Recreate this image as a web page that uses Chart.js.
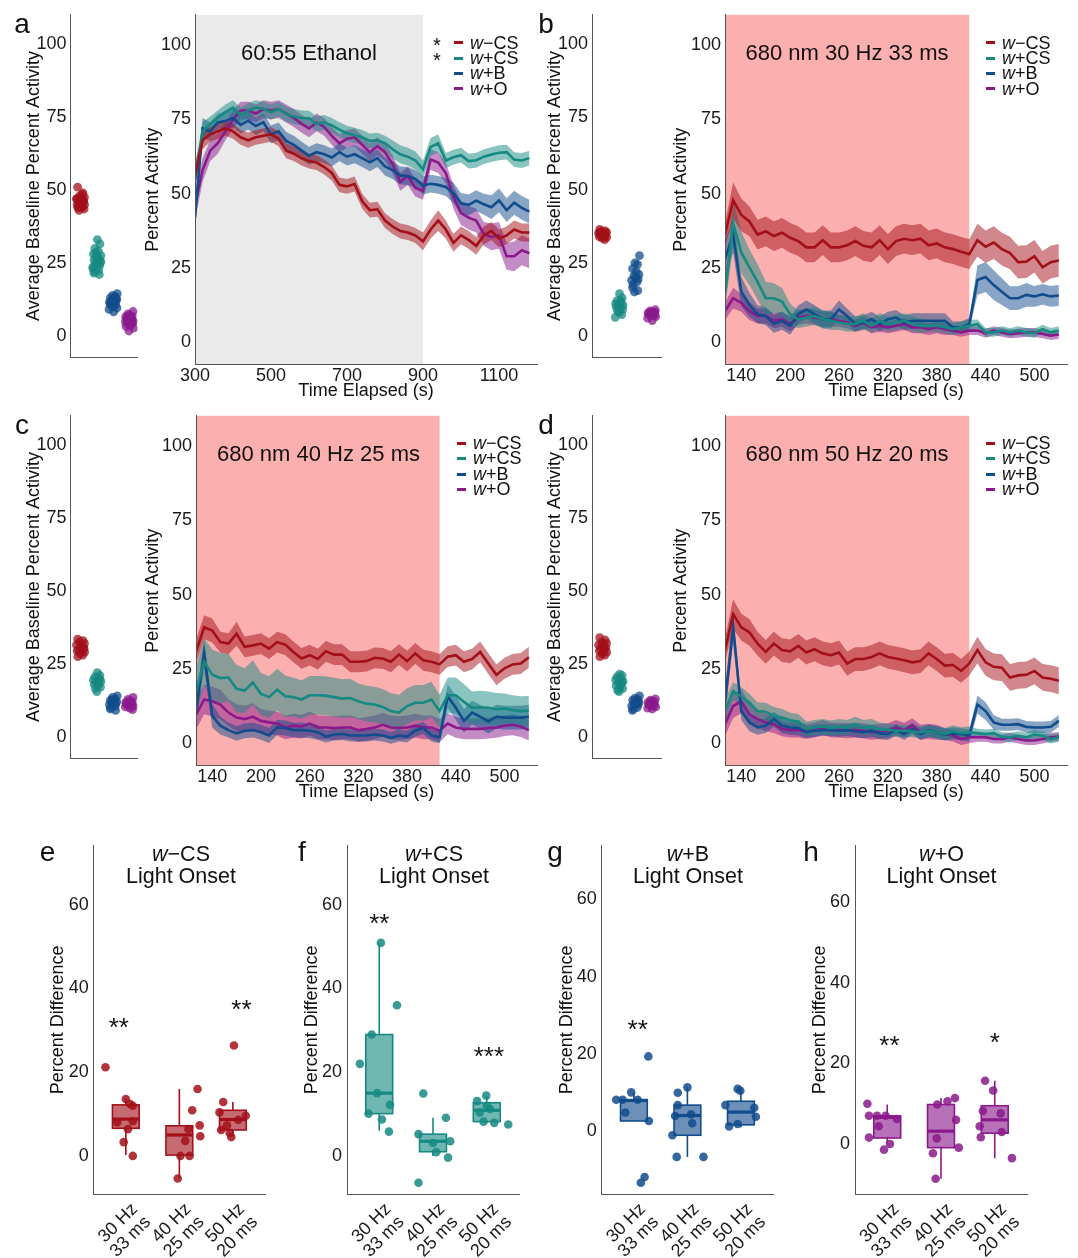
<!DOCTYPE html>
<html lang="en">
<head>
<meta charset="UTF-8">
<title>Activity under ethanol and red light</title>
<style>
  body { margin: 0; width: 1078px; height: 1258px; position: relative; overflow: hidden; background: #fff;
         font-family: 'Liberation Sans', Arial, Helvetica, sans-serif; color: #111; }
  canvas { position: absolute; }
  .txt { position: absolute; white-space: nowrap; transform: translate(-50%, -50%); line-height: 1; }
  .legend { position: absolute; font-size: 18px; line-height: 15.4px; white-space: nowrap; }
  .key { display: inline-block; width: 9px; height: 3px; margin-right: 7px; vertical-align: middle; position: relative; top: -1px; }
</style>
</head>
<body>
<canvas id="aStrip" width="142" height="372" style="left:0;top:0"></canvas>
<canvas id="aTime" width="398" height="402" style="left:142px;top:0"></canvas>
<canvas id="bStrip" width="126" height="372" style="left:540px;top:0"></canvas>
<canvas id="bTime" width="412" height="402" style="left:666px;top:0"></canvas>
<canvas id="cStrip" width="142" height="372" style="left:0;top:401px"></canvas>
<canvas id="cTime" width="398" height="402" style="left:142px;top:401px"></canvas>
<canvas id="dStrip" width="126" height="372" style="left:540px;top:401px"></canvas>
<canvas id="dTime" width="412" height="402" style="left:666px;top:401px"></canvas>
<canvas id="eBox" width="250" height="428" style="left:20px;top:830px"></canvas>
<canvas id="fBox" width="250" height="428" style="left:280px;top:830px"></canvas>
<canvas id="gBox" width="250" height="428" style="left:540px;top:830px"></canvas>
<canvas id="hBox" width="250" height="428" style="left:790px;top:830px"></canvas>

<script src="https://cdn.jsdelivr.net/npm/chart.js"></script>
<script>
// ---- groups / colours ----
const GROUPS = ['w−CS', 'w+CS', 'w+B', 'w+O'];
const COLORS = ['#A3101A', '#168A82', '#114C8C', '#8A1A8C'];

// ---- axes ----
const Y_TICKS_ACTIVITY = [0, 25, 50, 75, 100];
const Y_TICKS_DIFF = [0, 20, 40, 60];
const X_TICKS_ETHANOL = [300, 500, 700, 900, 1100];
const X_TICKS_LIGHT = [140, 200, 260, 320, 380, 440, 500];
const BOX_LABELS = [['30 Hz', '33 ms'], ['40 Hz', '25 ms'], ['50 Hz', '20 ms']];

// ---- time points ----
const T_ETHANOL = [300,320,340,360,380,400,420,440,460,480,500,520,540,560,580,600,620,640,660,680,700,720,740,760,780,800,820,840,860,880,900,920,940,960,980,1000,1020,1040,1060,1080,1100,1120,1140,1160,1180];
const T_LIGHT = [120,130,140,150,160,170,180,190,200,210,220,230,240,250,260,270,280,290,300,310,320,330,340,350,360,370,380,390,400,410,420,430,440,450,460,470,480,490,500,510,520,530];

// ---- panel a: ethanol ----
const A_RED = [56,68,70,71,72,71,69,68,69,69.5, 70,68.5,64.5,63.5,62,61,60.5,59,57,53, 52.5,53.3,47.5,44.5,44.8,41,39,37.5,37,36, 34,38,41,38,33.5,36,34.5,32.5,36,37.5, 35,36,38,37,37];
const A_TEAL = [55,71,73.5,75.5,77.5,79,76.5,78,79,78.5, 77.5,78.5,76.8,76,75.5,75.4,73.5,74,73,71.6, 70.4,69.7,69,67.8,68,67,65,63.3,62.5,61.2, 58.2,65.8,67,61.2,62.3,63,61,61.3,62.5,63.2, 63.8,64,61.5,61.2,62];
const A_BLUE = [42,72,71,74,74.5,75.5,73.2,74.6,72.8,74, 70,71,67.8,66.5,64.6,62.8,64,63.3,62.2,64, 62.5,63.3,62,60.6,62,59.2,58,56.2,56,55, 52.8,53.4,53,52.3,50.3,46.8,46.3,47.7,46.5,45.5, 47.8,44.5,47,45.3,44];
const A_PURPLE = [46,58,64.5,67,71,75,78,78,77,78.5, 78,78.5,77,75.5,73.6,72,74,72.5,69.5,67, 68.5,69,66.5,64,66,64,60,54,56,52, 51,61.5,60.5,57,49,43.5,42,41,36.5,35.5, 36,29,29,31,30];
const A_RED_SE = [4,3,2.5,2.5,2.5,2.5,2.5,2.5,2.5,2.5, 2.5,2.5,2.5,2.5,2.5,2.5,2.5,2.5,2.5,2.5, 2.5,2.5,2.5,2.5,2.5,2.5,2.5,2.5,2.5,2.5, 3,3,3.5,3,3,3,3,3,3,3, 3,3,3,3,3];
const A_TEAL_SE = [4,3,2.5,2.5,2.5,2.5,2.5,2.5,2.5,2.5, 2.5,2.5,2.5,2.5,2.5,2.5,2.5,2.5,2.5,2.5, 2.5,2.5,2.5,2.5,2.5,2.5,3,3,3,3, 3,3,3,2.5,2.5,2.5,2.5,2.5,2.5,2.5, 2.5,2.5,2.5,2.5,2.5];
const A_BLUE_SE = [5,3.5,3,3,3,3,3,3,3,3, 3,3,3,3,3,3,3,3,3,3, 3,3,3,3,3,3,3,3,3,3, 3,3,3,3,3.5,3.5,3.5,3.5,3.5,4, 4,4,4,4,4];
const A_PURPLE_SE = [5,4,3.5,3.5,3,3,3,3,3,3, 3,3,3,3,3,3,3,3,3,3, 3,3,3,3,3,3,3,3,3,3, 3,3.5,3.5,3.5,4,4,4,4,4,4.5, 4.5,4.5,5,5,5];

// ---- panel b: 30 Hz 33 ms ----
const B_RED = [36.3,47.8,42.9,40.7,36.3,37.4,35.8,36.9,35.2,34.1, 32,32,34.4,32,32,32.7,34.1,32.5,32,34.4, 31.4,34.1,34.9,34.4,34.9,32.7,33.3,32,31.4,30.5, 29.7,34.4,32.2,33.6,31.4,30.1,27,27.2,29,25.3, 27,27.6];
const B_TEAL = [16,40.1,30.3,25.3,20.4,14.9,14.9,13.8,9.5,7.8, 8.4,8.9,7.8,7.3,6.7,6.2,6.2,7.3,5.6,7.3, 6.2,6.7,7.3,6.2,5.6,5.6,5.6,5.1,4.5,5.1, 5.6,6.2,3.4,3.4,4,3.4,4,3.4,3.1,4.5, 3.4,4];
const B_BLUE = [28.1,36.3,17.1,12.7,9.5,8.9,6.2,7.3,5.6,9.5, 11.1,9.5,7.8,7.8,11.1,8.9,6.2,6.7,7.8,6.2, 7.8,8.4,6.7,7.3,7.3,7.3,7.3,7.3,5.1,5.1, 6.2,21,22,19.3,17.1,14.9,14.9,16,15.5,16.2, 15.5,15.8];
const B_PURPLE = [10.6,14.9,13.3,10.6,8.9,8.9,7.3,7.8,6.2,8.4, 8.9,8.4,7.8,7.8,7.3,6.7,5.6,6.7,5.1,5.6, 5.1,5.6,6.2,5.1,5.1,4.5,5.1,4.5,4,3.4, 4,4,3.1,4,3.4,2.9,3.1,3.4,3.4,2.9, 2.3,2.7];
const B_RED_SE = [4,6,5.5,5,5,5,5,5,5,5, 5,5,5,5,5,5,5,5,5,5, 5,5,5,5,5,5,5,5,5,5, 5,5.5,5.5,5.5,5.5,5.5,5.5,5.5,5.5,5.5, 5.5,5.5];
const B_TEAL_SE = [4,8,7,6,6,5.5,5,4.5,3.5,3, 3,3,3,3,2.5,2.5,2.5,2.5,2.5,2.5, 2.5,2.5,2.5,2.5,2.5,2,2,2,2,2, 2,1.5,1.5,1.5,1.5,1.5,1.5,1.5,1.5,1.5, 1.5,1.5];
const B_BLUE_SE = [6,6,5,4,3,3,3,3,3,3, 3,3,3,3,3,2.5,2.5,2.5,2.5,2.5, 2.5,2.5,2.5,2.5,2.5,2.5,2.5,2.5,2,2, 2,5,5,5,4.5,4,4,4,3.5,3.5, 3.5,3.5];
const B_PURPLE_SE = [3,3.5,3,3,2.5,2.5,2.5,2.5,2.5,2.5, 2.5,2.5,2.5,2.5,2,2,2,2,2,2, 2,2,2,2,2,2,2,2,1.5,1.5, 1.5,1.5,1.5,1.5,1.5,1.5,1.5,1.5,1.5,1.5, 1.5,1.5];

// ---- panel c: 40 Hz 25 ms ----
const C_RED = [30.8,39.1,38,34.1,33.6,36.9,32.5,33,33.6,31.9, 34.1,33.2,30.8,28.6,29.7,28.4,31,29.9,29.9,27.5, 27.5,27.7,28.8,28.6,27.5,29.9,27.7,30.3,28,27.5, 26.6,29.2,29.7,27.5,28.4,30.8,26.9,23.1,25.3,26.6, 26.9,29];
const C_TEAL = [17.6,27.5,23.1,22,22.2,18.4,17.8,20.5,16.7,15.6, 18.1,15.9,15.6,14.8,16.2,16.2,16.1,15.6,15.1,15.3, 14.2,13.4,13.1,12.3,10.9,10.4,12.6,13.7,13.7,14.8, 10.9,16.2,16.2,14,12,12.2,12,11.5,11.8,11.2, 10.9,11];
const C_BLUE = [11,30.3,9.3,6,4.5,3.4,4.3,4.5,3.8,2.7, 5.4,5.2,4.5,4.5,4.3,3.8,2.3,3,3.2,2.7, 2.7,2.7,3,2.7,1.9,2.7,2.3,4.3,5.2,2.7, 2.1,15.9,12,7.6,10.4,9,7.4,9,8.7,8.7, 8.7,9];
const C_PURPLE = [9.6,14.8,14.2,13.1,10.4,8.7,8.2,9,7.6,7.1, 6.7,5.4,6,5.7,6.7,5.4,5.4,5.2,5.4,5.4, 4.5,4.9,5.4,6.3,5.4,5.2,5.4,6,5.4,5.4, 4.3,6.7,5.4,4.9,4.9,4.9,5.2,5.4,6,6.3, 5.7,4.5];
const C_RED_SE = [4,4,4,3.5,3.5,4,3.5,3.5,3.5,3.5, 3.5,3.5,3.5,3.5,3.5,3.5,3.5,3.5,3.5,3.5, 3.5,3.5,3.5,3.5,3.5,3.5,3.5,3.5,3.5,3.5, 3.5,3.5,3.5,3.5,3.5,3.5,3.5,3.5,3.5,3.5, 3.5,3.5];
const C_TEAL_SE = [8,8,8.5,8.5,8,8,7.5,7.5,7,7, 7,7,6.5,6.5,6.5,6.5,6.5,6.5,6.5,6.5, 6,6,6,6,6,6,6,6,6,6, 5.5,6,6,6,5.5,5.5,5.5,5.5,5,5, 5,5];
const C_BLUE_SE = [4,5,4,3,2.5,2.5,2.5,2.5,2.5,2.5, 2.5,2.5,2.5,2.5,2.5,2.5,2,2,2,2, 2,2,2,2,2,2,2,2,2,2, 2,4,4,4,4,4,4,4,4,4, 4,4];
const C_PURPLE_SE = [5,5,5,5,4.5,4.5,4.5,4.5,4,4, 4,4,4,4,4,4,4,4,4,4, 4,4,4,4,4,4,4,4,4,4, 4,3.5,3.5,3.5,3.5,3.5,3.5,3.5,3.5,3.5, 3.5,3.5];

// ---- panel d: 50 Hz 20 ms ----
const D_RED = [31.4,43.5,39.1,37.4,33.6,30.8,33.6,31.4,31,32.8, 30.6,31.7,30.3,29.7,30.6,26.9,28.4,28.4,29.1,30.3, 29.1,28.6,28,27.3,27.7,30.3,28.4,26.2,26.4,24.4, 26.9,31.4,27.3,25.8,25.5,22.2,22.9,23.1,24.4,22.2, 21.8,21.1];
const D_TEAL = [10.9,17.6,15.9,13.7,10.9,10.7,9.3,8.7,7.8,7.4, 4.9,5.4,5.7,5.2,5.7,5.4,6.5,5.4,5.7,4.6, 4.6,4.3,4.3,4.1,3.8,4.1,3.8,3.2,4.1,3.5, 3.8,3.5,3.2,3.5,2.3,2.1,2.6,2.1,3,2.6, 1.5,2.1];
const D_BLUE = [13.7,39.1,10.9,7.1,5.4,6,8.2,6,5.4,5.2, 3.8,4.3,4.5,4.5,4.3,4.5,4.1,3.8,4.3,3.4, 3.2,4.5,3.2,4.9,3.2,4.3,3.8,3,3.4,3.2, 2.7,13.1,10.9,7.1,6.3,6.3,6.5,5.6,5.4,5.4, 5.6,7.6];
const D_PURPLE = [6.5,12.6,14.2,9.8,8.2,7.1,6.5,4.9,4.5,4.5, 4.1,4.5,5.4,4.5,4.5,4.3,4.5,4.3,3.8,4.1, 4.3,5.4,4.5,6,3.8,4.1,3.8,3.2,2.7,1.5, 2.1,2.1,2.1,1.5,1.5,2.1,1.5,1,1,1.5, 2.1,2.3];
const D_RED_SE = [4,5,4.5,4.5,4,4,4,4,4,4, 4,4,4,4,4,4,4,4,4,4, 4,4,4,4,4,4,4,4,4,4, 4,4.5,4.5,4.5,4.5,4.5,4.5,4.5,4.5,4.5, 4.5,4.5];
const D_TEAL_SE = [4,3,3,3,3,3,3,3,2.5,2.5, 2.5,2.5,2.5,2.5,2.5,2.5,2.5,2.5,2.5,2.5, 2,2,2,2,2,2,2,2,2,2, 2,1.5,1.5,1.5,1.5,1.5,1.5,1.5,1.5,1.5, 1.5,1.5];
const D_BLUE_SE = [5,5,3,3,2.5,2.5,2.5,2.5,2.5,2.5, 2,2,2,2,2,2,2,2,2,2, 2,2,2,2,2,2,2,2,2,2, 2,3,3,2.5,2,2,2,2,2,2, 2,2];
const D_PURPLE_SE = [4,4,4,3.5,3,3,3,2.5,2.5,2.5, 2.5,2.5,2.5,2.5,2.5,2.5,2.5,2.5,2.5,2.5, 2.5,2.5,2.5,2.5,2.5,2.5,2.5,2,2,2, 2,1.5,1.5,1.5,1.5,1.5,1.5,1.5,1.5,1.5, 1.5,1.5];

// ---- baseline activity (strip plots) ----
const A_BASE_RED = [51,49,48,47.5,47,46.5,46,46,45.5,45,45,44.5,44.5,44,44,43.5,43,45,46.5,47,48.5,44.2];
const A_BASE_TEAL = [33,31.5,30,29,28,27.5,27,26.5,26,26,25.5,25,24.5,24,23,22.5,22,21.5,21,28.5,25.2,23.5];
const A_BASE_BLUE = [14.4,13.8,13.5,13,12.8,12.5,12.2,12,11.8,11.5,11.2,11,10.8,10.5,10,9.5,9,8.2,12.6,11.4];
const A_BASE_PURPLE = [8.3,7.5,7,6.8,6.5,6.2,6,5.8,5.5,5.2,5,4.8,4.5,4.2,4,3.6,3.2,2.6,1.6,5.4];
const B_BASE_RED = [36.5,36,35.8,35.5,35.2,35,34.8,34.5,34.2,34,33.8,33.5,33,35.5,34.6];
const B_BASE_TEAL = [14.4,13,12,11.5,11,10.5,10.2,10,9.8,9.5,9,8.5,8,7.2,6.3,11.8];
const B_BASE_BLUE = [27.5,25,24.5,23,22,21,20.5,20,19.5,19,18.5,17.5,16.5,15.5,15];
const B_BASE_PURPLE = [8.9,8.5,8.2,8,7.8,7.6,7.5,7.3,7,6.8,6.5,6,5.2,7.9];
const C_BASE_RED = [33.5,33,32.5,32,31.5,31,30.5,30,29.8,29.5,29,28.5,28,27.5,31.2,30.2];
const C_BASE_TEAL = [22,21,20.5,20,19.5,19,18.8,18.5,18,17.5,17,16.5,15.5,19.8];
const C_BASE_BLUE = [14,13.5,13,12.5,12.2,12,11.8,11.5,11.2,11,10.5,10,9.5,9,12.6];
const C_BASE_PURPLE = [13.5,12.8,12.3,12,11.8,11.6,11.4,11.2,11,10.8,10.5,10.2,9.8,9.3];
const D_BASE_RED = [34,33.2,32.5,32,31.5,31,30.5,30.2,30,29.5,29,28.5,28,27.5,31.8];
const D_BASE_TEAL = [21.5,21,20.5,20,19.5,19,18.5,18,17.5,17,16.5,16,15.5,18.8];
const D_BASE_BLUE = [14,13.2,12.8,12.5,12,11.8,11.5,11.2,11,10.5,10,9.5,9,12.2];
const D_BASE_PURPLE = [13,12.5,12.2,12,11.8,11.5,11.2,11,10.8,10.5,10.2,9.8,9.5];
const JITTER = [-0.18,0.15,-0.06,0.24,-0.25,0.03,0.19,-0.12,0.09,-0.21,0.25,-0.03,0.13,-0.17,0.06,0.22,-0.09,0,0.17,-0.23,0.11,-0.14];

// ---- light onset boxes (e-h) ----
const E_Q1 = [6.6, 0.2, 6.2], E_MED = [8.8, 5.0, 8.7], E_Q3 = [12.2, 7.2, 10.9], E_LO = [0.2, -5.4, 4.7], E_HI = [13.6, 16.0, 12.9];
const E_POINTS = [[21.2,13.6,12.4,12,8,8.3,6.4,3.3,0], [-5.4,0,0,3.6,6.4,10.9,7.3,4.7,16], [26.4,12.9,10.4,7.3,6.2,5.5,4.5,9.6,8.6]];
const E_JIT = [[-0.38,0,0.08,0.13,-0.16,0.13,0.04,-0.04,0.13], [-0.03,0.02,0.19,0.11,0.17,0.24,0.38,0.39,0.34], [0.02,-0.18,-0.25,-0.11,-0.22,-0.06,-0.03,0.24,0.1]];
const E_STARS = ['**', '', '**'], E_STAR_Y = [30.8, null, 35], E_STAR_X = [0.87, 2, 3.16];

const F_Q1 = [10.1, 1.0, 8.2], F_MED = [15, 3.5, 10.9], F_Q3 = [29, 5.2, 12.7], F_LO = [6, 0, 7.8], F_HI = [50.9, 9.1, 14.3];
const F_POINTS = [[50.9,36,29,22,15,12.2,10.1,8.7,5.8], [-6.4,14.9,5.2,3.1,0.9,9.1,3.5,-0.4], [14.4,13.1,10.4,11.2,7.9,7.5,12,8.2]];
const F_JIT = [[0.03,0.33,-0.14,-0.36,-0.04,0.2,-0.2,0.05,0.18], [-0.27,-0.18,-0.27,0,0.06,0.24,0.32,0.28], [-0.01,-0.18,-0.13,0.06,0.14,0.4,0,-0.06]];
const F_STARS = ['**', '', '***'], F_STAR_Y = [55.7, null, 23.9], F_STAR_X = [1, 2, 3.04];

const G_Q1 = [2.7, -1, 1.7], G_MED = [8, 4.1, 5], G_Q3 = [8.2, 6.8, 7.8], G_LO = [2.7, -6.6, 1.1], G_HI = [10.1, 11.4, 11];
const G_POINTS = [[8.2,8.2,10.1,8.2,4.9,2.7,19.4,-11.8,-13.3], [11.4,10,6.8,4,4.4,2.1,-1,-6.6,-6.6], [11,10.5,6.8,6.1,3.8,1.3,1.9]];
const G_JIT = [[-0.33,-0.21,-0.05,0.07,-0.16,0.28,0.27,0.2,0.13], [0,-0.18,-0.18,-0.23,0.07,0.09,-0.28,-0.2,0.3], [-0.06,-0.01,-0.29,0.25,0.28,-0.22,-0.06]];
const G_STARS = ['**', '', ''], G_STAR_Y = [26.6, null, null], G_STAR_X = [1.07, 2, 3];

const H_Q1 = [1.5, -0.9, 2.7], H_MED = [6.6, 3.2, 6], H_Q3 = [7, 9.8, 9.5], H_LO = [0.1, -8.6, -3.5], H_HI = [9.8, 11.4, 15.7];
const H_POINTS = [[10,7,7,4.4,7,6.2,1.6,0,-1.4], [-8.6,-2.3,1.4,9.8,10.6,11.4,6,-0.9], [15.7,13.3,8.2,7.6,4.4,1.7,3,-3.5]];
const H_JIT = [[-0.37,-0.34,-0.19,-0.16,-0.03,0.18,-0.34,0.05,-0.06], [-0.1,-0.15,-0.08,-0.07,0.12,0.26,0.28,0.33], [-0.18,-0.03,-0.22,0.11,-0.28,-0.26,0.13,0.32]];
const H_STARS = ['**', '', '*'], H_STAR_Y = [24.6, null, 25.4], H_STAR_X = [1.04, 2, 3];

// ------------------------------------------------------------
const FONT = "'Liberation Sans', Arial, Helvetica, sans-serif";
Chart.defaults.font.family = FONT;
Chart.defaults.color = '#1a1a1a';
Chart.defaults.animation = false;
Chart.defaults.plugins.legend.display = false;
Chart.defaults.plugins.tooltip.enabled = false;

function rgba(hex, a) {
  const n = parseInt(hex.slice(1), 16);
  return `rgba(${(n >> 16) & 255},${(n >> 8) & 255},${n & 255},${a})`;
}

const AXIS = { display: true, color: '#555', width: 1, z: 1 };

function yScale(min, max, ticks, title, width, titlePad, tickPad) {
  return {
    type: 'linear', min: min, max: max,
    grid: { display: false, drawTicks: false },
    border: AXIS,
    afterBuildTicks: s => { s.ticks = ticks.map(v => ({ value: v })); },
    afterFit: s => { s.width = width; },
    ticks: { autoSkip: false, padding: tickPad, font: { size: 18 }, callback: v => String(v) },
    title: { display: true, text: title, font: { size: 18 }, color: '#111', padding: { top: titlePad, bottom: 0 } }
  };
}

// background band (ethanol / light on)
const shadePlugin = {
  id: 'shade',
  beforeDatasetsDraw(chart, args, opts) {
    const { ctx, chartArea, scales: { x } } = chart;
    const x0 = x.getPixelForValue(opts.range[0]);
    const x1 = x.getPixelForValue(opts.range[1]);
    ctx.save();
    ctx.fillStyle = opts.color;
    ctx.fillRect(x0, chartArea.top, x1 - x0, chartArea.bottom - chartArea.top);
    ctx.restore();
  }
};

function timeChart(id, t, means, ses, xMin, xMax, xTicks, shade, shadeColor, yWidth, titlePad, padRight) {
  const datasets = [];
  means.forEach((m, g) => {
    const se = ses[g];
    const s = i => (se[i] !== undefined ? se[i] : se[se.length - 1]);
    datasets.push({ data: m.map((v, i) => ({ x: t[i], y: v - s(i) })), borderColor: 'rgba(0,0,0,0)', borderWidth: 0,
                    pointRadius: 0, fill: false, order: 2 });
    datasets.push({ data: m.map((v, i) => ({ x: t[i], y: v + s(i) })), borderColor: 'rgba(0,0,0,0)', borderWidth: 0,
                    pointRadius: 0, fill: '-1', backgroundColor: rgba(COLORS[g], 0.5), order: 2 });
  });
  means.forEach((m, g) => {
    datasets.push({ data: m.map((v, i) => ({ x: t[i], y: v })), borderColor: COLORS[g], borderWidth: 2.6,
                    pointRadius: 0, fill: false, order: 1, tension: 0 });
  });
  new Chart(document.getElementById(id), {
    type: 'line',
    data: { datasets: datasets },
    plugins: [shadePlugin],
    options: {
      responsive: false, devicePixelRatio: 1,
      layout: { padding: { top: 7, right: padRight, bottom: 0, left: 0 } },
      plugins: { shade: { range: shade, color: shadeColor } },
      scales: {
        x: {
          type: 'linear', min: xMin, max: xMax,
          grid: { display: false, drawTicks: false },
          border: AXIS,
          afterBuildTicks: s => { s.ticks = xTicks.map(v => ({ value: v })); },
          afterFit: s => { s.height = 37.5; },
          ticks: { autoSkip: false, padding: 1, maxRotation: 0, font: { size: 18 }, callback: v => String(v) },
          title: { display: true, text: 'Time Elapsed (s)', font: { size: 18 }, color: '#111', padding: 0 }
        },
        y: yScale(-7.4, 110.2, Y_TICKS_ACTIVITY, 'Percent Activity', yWidth, titlePad, 4)
      }
    }
  });
}

function stripChart(id, groups, xMin, xMax, yWidth, titlePad, padRight) {
  const datasets = groups.map((vals, g) => ({
    data: vals.map((v, i) => ({ x: g + 1 + JITTER[(i + 5 * g) % JITTER.length], y: v })),
    backgroundColor: rgba(COLORS[g], 0.75), borderWidth: 0, pointRadius: 4.4
  }));
  new Chart(document.getElementById(id), {
    type: 'scatter',
    data: { datasets: datasets },
    options: {
      responsive: false, devicePixelRatio: 1,
      layout: { padding: { top: 7, right: padRight, bottom: 0, left: 0 } },
      scales: {
        x: {
          type: 'linear', min: xMin, max: xMax,
          grid: { display: false, drawTicks: false }, border: AXIS,
          ticks: { display: false },
          afterFit: s => { s.height = 7.5; }
        },
        y: yScale(-7.4, 110.2, Y_TICKS_ACTIVITY, 'Average Baseline Percent Activity', yWidth, titlePad, 4)
      }
    }
  });
}

// boxes, whiskers and significance stars
const boxPlugin = {
  id: 'boxes',
  beforeDatasetsDraw(chart, args, o) {
    const { ctx, scales: { x, y } } = chart;
    const half = x.getPixelForValue(1.25) - x.getPixelForValue(1);
    ctx.save();
    ctx.strokeStyle = o.color;
    for (let k = 0; k < 3; k++) {
      const cx = x.getPixelForValue(k + 1);
      const y1 = y.getPixelForValue(o.q1[k]), y3 = y.getPixelForValue(o.q3[k]);
      const ym = y.getPixelForValue(o.med[k]);
      ctx.lineWidth = 1.6;
      ctx.beginPath();
      ctx.moveTo(cx, y.getPixelForValue(o.lo[k])); ctx.lineTo(cx, y1);
      ctx.moveTo(cx, y3); ctx.lineTo(cx, y.getPixelForValue(o.hi[k]));
      ctx.stroke();
      ctx.fillStyle = rgba(o.color, 0.62);
      ctx.fillRect(cx - half, y3, 2 * half, y1 - y3);
      ctx.strokeRect(cx - half, y3, 2 * half, y1 - y3);
      ctx.lineWidth = 3.2;
      ctx.beginPath(); ctx.moveTo(cx - half, ym); ctx.lineTo(cx + half, ym); ctx.stroke();
    }
    ctx.restore();
  },
  afterDatasetsDraw(chart, args, o) {
    const { ctx, scales: { x, y } } = chart;
    ctx.save();
    ctx.fillStyle = '#111';
    ctx.font = '26px ' + FONT;
    ctx.textAlign = 'center';
    ctx.textBaseline = 'alphabetic';
    o.stars.forEach((s, k) => {
      if (!s) return;
      ctx.fillText(s, x.getPixelForValue(o.starX[k]), y.getPixelForValue(o.starY[k]) + 9);
    });
    ctx.restore();
  }
};

function boxChart(id, g, q1, med, q3, lo, hi, points, jit, stars, starY, starX, yMin, yMax, yWidth, titlePad, padRight) {
  const data = [];
  points.forEach((vals, k) => vals.forEach((v, i) => data.push({ x: k + 1 + jit[k][i], y: v })));
  new Chart(document.getElementById(id), {
    type: 'scatter',
    data: { datasets: [{ data: data, backgroundColor: rgba(COLORS[g], 0.85), borderWidth: 0, pointRadius: 4.3 }] },
    plugins: [boxPlugin],
    options: {
      responsive: false, devicePixelRatio: 1,
      layout: { padding: { top: 8, right: padRight, bottom: 0, left: 0 } },
      plugins: { boxes: { color: COLORS[g], q1, med, q3, lo, hi, stars, starY, starX } },
      scales: {
        x: {
          type: 'linear', min: 0.4, max: 3.6,
          grid: { display: false, drawTicks: false }, border: AXIS,
          afterBuildTicks: s => { s.ticks = [1, 2, 3].map(v => ({ value: v })); },
          afterFit: s => { s.height = 64; },
          ticks: { autoSkip: false, minRotation: 45, maxRotation: 45, padding: 6, labelOffset: 9,
                   font: { size: 18, lineHeight: 1.02 }, callback: v => BOX_LABELS[v - 1] }
        },
        y: yScale(yMin, yMax, Y_TICKS_DIFF, 'Percent Difference', yWidth, titlePad, 5)
      }
    }
  });
}

// ---- build charts ----
timeChart('aTime', T_ETHANOL, [A_RED, A_TEAL, A_BLUE, A_PURPLE], [A_RED_SE, A_TEAL_SE, A_BLUE_SE, A_PURPLE_SE],
          300, 1200, X_TICKS_ETHANOL, [300, 900], '#EAEAEA', 53, 0, 3);
timeChart('bTime', T_LIGHT, [B_RED, B_TEAL, B_BLUE, B_PURPLE], [B_RED_SE, B_TEAL_SE, B_BLUE_SE, B_PURPLE_SE],
          120, 540, X_TICKS_LIGHT, [120, 420], '#FCAFAF', 59, 4, 11);
timeChart('cTime', T_LIGHT, [C_RED, C_TEAL, C_BLUE, C_PURPLE], [C_RED_SE, C_TEAL_SE, C_BLUE_SE, C_PURPLE_SE],
          120, 540, X_TICKS_LIGHT, [120, 420], '#FCAFAF', 54, 0, 3);
timeChart('dTime', T_LIGHT, [D_RED, D_TEAL, D_BLUE, D_PURPLE], [D_RED_SE, D_TEAL_SE, D_BLUE_SE, D_PURPLE_SE],
          120, 540, X_TICKS_LIGHT, [120, 420], '#FCAFAF', 59, 4, 11);

stripChart('aStrip', [A_BASE_RED, A_BASE_TEAL, A_BASE_BLUE, A_BASE_PURPLE], 0.39, 4.5, 70.6, 23, 1.5);
stripChart('bStrip', [B_BASE_RED, B_BASE_TEAL, B_BASE_BLUE, B_BASE_PURPLE], 0.35, 4.6, 52, 4, 2);
stripChart('cStrip', [C_BASE_RED, C_BASE_TEAL, C_BASE_BLUE, C_BASE_PURPLE], 0.39, 4.5, 70.6, 23, 1.5);
stripChart('dStrip', [D_BASE_RED, D_BASE_TEAL, D_BASE_BLUE, D_BASE_PURPLE], 0.35, 4.6, 52, 4, 2);

boxChart('eBox', 0, E_Q1, E_MED, E_Q3, E_LO, E_HI, E_POINTS, E_JIT, E_STARS, E_STAR_Y, E_STAR_X, -9.1, 74.1, 73.7, 27.7, 5);
boxChart('fBox', 1, F_Q1, F_MED, F_Q3, F_LO, F_HI, F_POINTS, F_JIT, F_STARS, F_STAR_Y, F_STAR_X, -9.1, 74.1, 67, 20.8, 11);
boxChart('gBox', 2, G_Q1, G_MED, G_Q3, G_LO, G_HI, G_POINTS, G_JIT, G_STARS, G_STAR_Y, G_STAR_X, -16.2, 73.9, 61.8, 16, 17);
boxChart('hBox', 3, H_Q1, H_MED, H_Q3, H_LO, H_HI, H_POINTS, H_JIT, H_STARS, H_STAR_Y, H_STAR_X, -12.4, 74, 65, 19, 13);

// ---- text: panel letters, condition labels, legends, box titles ----
function label(html, x, y, size) {
  const d = document.createElement('div');
  d.className = 'txt';
  d.style.left = x + 'px';
  d.style.top = y + 'px';
  d.style.fontSize = size + 'px';
  d.innerHTML = html;
  document.body.appendChild(d);
}
function groupName(s) { return '<i>' + s[0] + '</i>' + s.slice(1); }

[['a', 22, 24], ['b', 546, 24], ['c', 22, 425], ['d', 546, 425],
 ['e', 47.5, 852], ['f', 302, 852], ['g', 555, 852], ['h', 811, 852]].forEach(p => label(p[0], p[1], p[2], 28));

label('60:55 Ethanol', 309, 53, 22);
label('680 nm 30 Hz 33 ms', 847, 53, 22);
label('680 nm 40 Hz 25 ms', 318.5, 454, 22);
label('680 nm 50 Hz 20 ms', 847, 454, 22);

function legend(x, y) {
  const d = document.createElement('div');
  d.className = 'legend';
  d.style.left = x + 'px';
  d.style.top = y + 'px';
  d.innerHTML = GROUPS.map((gname, g) =>
    `<div><span class="key" style="background:${COLORS[g]}"></span>${groupName(gname)}</div>`).join('');
  document.body.appendChild(d);
}
legend(454, 35.5);
legend(986, 35.5);
legend(457, 436);
legend(986, 436);
label('*', 437, 45, 20);
label('*', 437, 60, 20);

[[0, 181], [1, 434], [2, 688], [3, 941.5]].forEach(([g, x]) => {
  label(groupName(GROUPS[g]), x, 855, 21.5);
  label('Light Onset', x, 877, 21.5);
});
</script>
</body>
</html>
